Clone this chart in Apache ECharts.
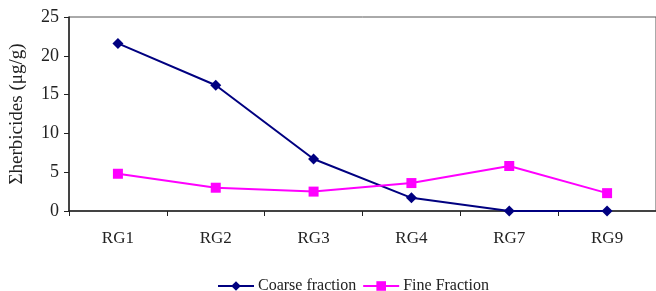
<!DOCTYPE html>
<html><head><meta charset="utf-8">
<script src="https://cdn.jsdelivr.net/npm/echarts@6/dist/echarts.min.js"></script>
<style>html,body{margin:0;padding:0;background:#fff}#c{width:656px;height:291px}</style>
</head><body><div id="c"></div>
<script>
const categories = ['RG1','RG2','RG3','RG4','RG7','RG9'];
const coarse = [21.6, 16.2, 6.7, 1.7, 0, 0];
const fine = [4.8, 3.0, 2.5, 3.6, 5.8, 2.3];
const yTicks = [0,5,10,15,20,25];
const font = 'Liberation Serif, Times New Roman, serif';
const chart = echarts.init(document.getElementById('c'));
chart.setOption({
  animation:false,
  backgroundColor:'#fff',
  grid:{left:67,right:0,top:17,bottom:80,show:true,borderColor:'#555',borderWidth:1},
  legend:{top:273,left:212,itemGap:6,itemWidth:36,itemHeight:12,
    textStyle:{fontFamily:font,fontSize:16,color:'#222',padding:[0,0,0,-1]},
    data:['Coarse fraction','Fine Fraction']},
  xAxis:{type:'category',data:categories,boundaryGap:true,
    axisLine:{lineStyle:{color:'#222',width:1.5}},
    axisTick:{show:true,length:5,inside:false,lineStyle:{color:'#222'}},
    axisLabel:{fontFamily:font,fontSize:17,color:'#222',margin:19}},
  yAxis:{type:'value',min:0,max:25,interval:5,
    name:'\u03A3herbicides (\u03BCg/g)',nameLocation:'middle',nameGap:42,
    nameTextStyle:{fontFamily:font,fontSize:19,color:'#222'},
    axisLine:{show:true,lineStyle:{color:'#222',width:1.5}},
    axisTick:{show:true,length:5,lineStyle:{color:'#222'}},
    splitLine:{show:false},
    axisLabel:{fontFamily:font,fontSize:18,color:'#222',margin:10}},
  series:[
    {name:'Coarse fraction',type:'line',data:coarse,symbol:'diamond',symbolSize:11,
     lineStyle:{color:'#000080',width:2},itemStyle:{color:'#000080'}},
    {name:'Fine Fraction',type:'line',data:fine,symbol:'rect',symbolSize:10,
     lineStyle:{color:'#FF00FF',width:2},itemStyle:{color:'#FF00FF'}}
  ]
});
</script></body></html>
